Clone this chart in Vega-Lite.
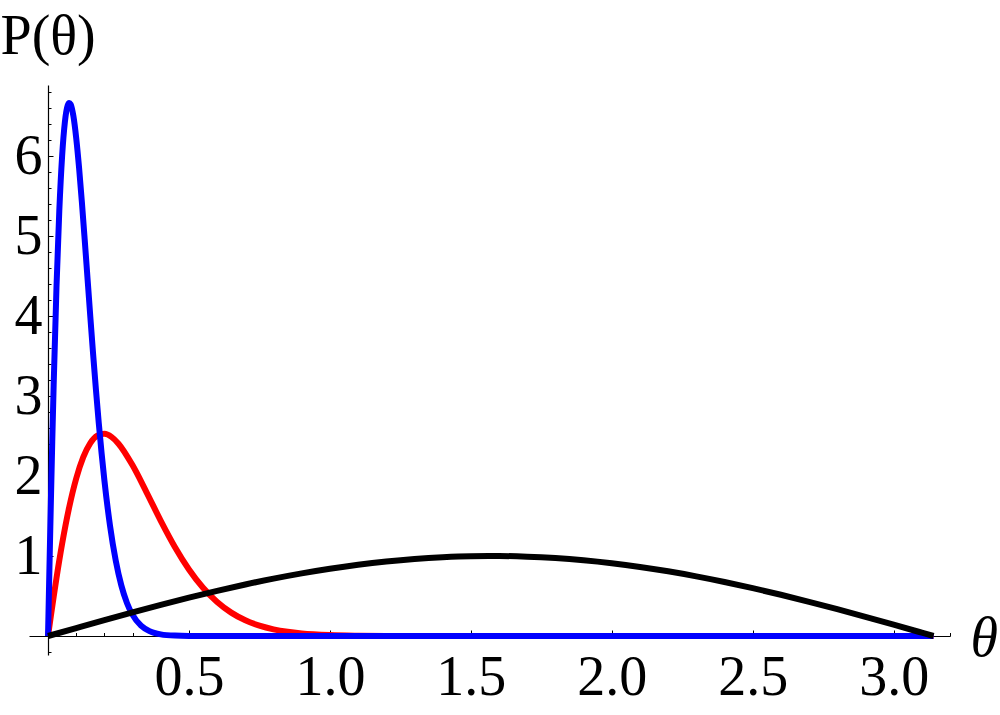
{
  "$schema": "https://vega.github.io/schema/vega-lite/v6.json",
  "width": 921,
  "height": 570,
  "autosize": "none",
  "padding": {"left": 29, "top": 85, "right": 50, "bottom": 60},
  "background": "white",
  "config": {
    "view": {"stroke": null},
    "axis": {
      "grid": false,
      "domainColor": "black",
      "domainWidth": 1.2,
      "tickColor": "black",
      "tickWidth": 1,
      "labelFont": "Liberation Serif",
      "labelFontSize": 56,
      "labelColor": "black",
      "labelFlush": false,
      "labelOverlap": false,
      "labelBound": false,
      "titleFont": "Liberation Serif",
      "titleFontSize": 56,
      "titleFontWeight": "normal",
      "titleColor": "black",
      "zindex": 1
    }
  },
  "datasets": {
    "black": [
      {"theta": 0, "P": 0}, {"theta": 0.1, "P": 0.0998}, {"theta": 0.2, "P": 0.1987}, {"theta": 0.3, "P": 0.2955},
      {"theta": 0.4, "P": 0.3894}, {"theta": 0.5, "P": 0.4794}, {"theta": 0.6, "P": 0.5646}, {"theta": 0.7, "P": 0.6442},
      {"theta": 0.8, "P": 0.7174}, {"theta": 0.9, "P": 0.7833}, {"theta": 1.0, "P": 0.8415}, {"theta": 1.1, "P": 0.8912},
      {"theta": 1.2, "P": 0.932}, {"theta": 1.3, "P": 0.9636}, {"theta": 1.4, "P": 0.9854}, {"theta": 1.5, "P": 0.9975},
      {"theta": 1.6, "P": 0.9996}, {"theta": 1.7, "P": 0.9917}, {"theta": 1.8, "P": 0.9738}, {"theta": 1.9, "P": 0.9463},
      {"theta": 2.0, "P": 0.9093}, {"theta": 2.1, "P": 0.8632}, {"theta": 2.2, "P": 0.8085}, {"theta": 2.3, "P": 0.7457},
      {"theta": 2.4, "P": 0.6755}, {"theta": 2.5, "P": 0.5985}, {"theta": 2.6, "P": 0.5155}, {"theta": 2.7, "P": 0.4274},
      {"theta": 2.8, "P": 0.335}, {"theta": 2.9, "P": 0.2392}, {"theta": 3.0, "P": 0.1411}, {"theta": 3.1, "P": 0.0416},
      {"theta": 3.1416, "P": 0}
    ],
    "red": [
      {"theta": 0, "P": 0}, {"theta": 0.01, "P": 0.249}, {"theta": 0.02, "P": 0.491}, {"theta": 0.03, "P": 0.724},
      {"theta": 0.05, "P": 1.152}, {"theta": 0.075, "P": 1.608}, {"theta": 0.1, "P": 1.969}, {"theta": 0.125, "P": 2.235},
      {"theta": 0.15, "P": 2.411}, {"theta": 0.175, "P": 2.504}, {"theta": 0.2, "P": 2.527}, {"theta": 0.225, "P": 2.489},
      {"theta": 0.25, "P": 2.404}, {"theta": 0.3, "P": 2.133}, {"theta": 0.35, "P": 1.793}, {"theta": 0.4, "P": 1.44},
      {"theta": 0.45, "P": 1.113}, {"theta": 0.5, "P": 0.832}, {"theta": 0.55, "P": 0.603}, {"theta": 0.6, "P": 0.425},
      {"theta": 0.65, "P": 0.292}, {"theta": 0.7, "P": 0.196}, {"theta": 0.75, "P": 0.129}, {"theta": 0.8, "P": 0.0827},
      {"theta": 0.85, "P": 0.0521}, {"theta": 0.9, "P": 0.0322}, {"theta": 1.0, "P": 0.0116}, {"theta": 1.1, "P": 0.0039},
      {"theta": 1.2, "P": 0.0012}, {"theta": 1.5, "P": 0}, {"theta": 2.0, "P": 0}, {"theta": 3.1416, "P": 0}
    ],
    "blue": [
      {"theta": 0, "P": 0}, {"theta": 0.005, "P": 0.849}, {"theta": 0.01, "P": 1.664}, {"theta": 0.015, "P": 2.429},
      {"theta": 0.02, "P": 3.138}, {"theta": 0.03, "P": 4.362}, {"theta": 0.04, "P": 5.316}, {"theta": 0.05, "P": 5.999},
      {"theta": 0.06, "P": 6.431}, {"theta": 0.07, "P": 6.636}, {"theta": 0.075, "P": 6.664}, {"theta": 0.08, "P": 6.648},
      {"theta": 0.09, "P": 6.499}, {"theta": 0.1, "P": 6.224}, {"theta": 0.11, "P": 5.858}, {"theta": 0.12, "P": 5.428},
      {"theta": 0.13, "P": 4.96}, {"theta": 0.14, "P": 4.476}, {"theta": 0.15, "P": 3.992}, {"theta": 0.16, "P": 3.521},
      {"theta": 0.17, "P": 3.078}, {"theta": 0.18, "P": 2.664}, {"theta": 0.19, "P": 2.286}, {"theta": 0.2, "P": 1.946},
      {"theta": 0.22, "P": 1.377}, {"theta": 0.24, "P": 0.947}, {"theta": 0.26, "P": 0.633}, {"theta": 0.28, "P": 0.413},
      {"theta": 0.3, "P": 0.264}, {"theta": 0.33, "P": 0.129}, {"theta": 0.36, "P": 0.0602}, {"theta": 0.4, "P": 0.0204},
      {"theta": 0.45, "P": 0.0048}, {"theta": 0.5, "P": 0.001}, {"theta": 0.6, "P": 0}, {"theta": 1.0, "P": 0},
      {"theta": 2.0, "P": 0}, {"theta": 3.1416, "P": 0}
    ]
  },
  "encoding": {
    "x": {
      "field": "theta",
      "type": "quantitative",
      "scale": {"domain": [-0.0675, 3.2], "nice": false, "zero": false},
      "axis": {
        "orient": "bottom",
        "offset": -19,
        "title": "θ",
        "titleFontStyle": "italic",
        "titleAlign": "left",
        "titleBaseline": "alphabetic",
        "titleX": 941,
        "titleY": 19,
        "values": [0.1, 0.2, 0.3, 0.4, 0.5, 0.6, 0.7, 0.8, 0.9, 1.0, 1.1, 1.2, 1.3, 1.4, 1.5, 1.6, 1.7, 1.8, 1.9, 2.0, 2.1, 2.2, 2.3, 2.4, 2.5, 2.6, 2.7, 2.8, 2.9, 3.0, 3.1, 3.2],
        "labelExpr": "abs(round(datum.value*10)%5)==0 && datum.value < 3.1 ? format(datum.value, '.1f') : ''",
        "tickSize": {"condition": {"test": "abs(round(datum.value*10)%5)==0", "value": -6}, "value": -3.5},
        "labelPadding": 20
      }
    },
    "y": {
      "field": "P",
      "type": "quantitative",
      "scale": {"domain": [-0.2375, 6.8875], "nice": false, "zero": false},
      "axis": {
        "orient": "left",
        "offset": -19,
        "title": "P(θ)",
        "titleAngle": 0,
        "titleAlign": "left",
        "titleBaseline": "alphabetic",
        "titleX": -48,
        "titleY": -32,
        "values": [-0.2, 0.2, 0.4, 0.6, 0.8, 1, 1.2, 1.4, 1.6, 1.8, 2, 2.2, 2.4, 2.6, 2.8, 3, 3.2, 3.4, 3.6, 3.8, 4, 4.2, 4.4, 4.6, 4.8, 5, 5.2, 5.4, 5.6, 5.8, 6, 6.2, 6.4, 6.6, 6.8],
        "labelExpr": "abs(round(datum.value*10)%10)==0 && datum.value > 0 ? format(datum.value, 'd') : ''",
        "tickSize": {"condition": {"test": "abs(round(datum.value*10)%10)==0", "value": -5}, "value": -3},
        "labelPadding": 11
      }
    }
  },
  "layer": [
    {"data": {"name": "red"}, "mark": {"type": "line", "color": "#ff0000", "strokeWidth": 6, "interpolate": "monotone", "strokeJoin": "round"}},
    {"data": {"name": "blue"}, "mark": {"type": "line", "color": "#0000ff", "strokeWidth": 6, "interpolate": "monotone", "strokeJoin": "round"}},
    {"data": {"name": "black"}, "mark": {"type": "line", "color": "#000000", "strokeWidth": 6, "interpolate": "monotone", "strokeJoin": "round"}}
  ]
}
